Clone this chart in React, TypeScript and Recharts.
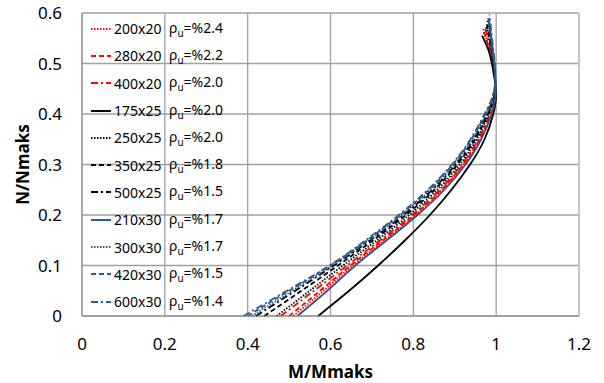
import React from "react"
import { CartesianGrid, Label, Legend, Line, LineChart, ReferenceLine, XAxis, YAxis } from "recharts"

// N/Nmaks levels of the lower branch (shared by all columns)
const lowerN = [0, 0.05, 0.1, 0.15, 0.2, 0.25, 0.3, 0.35, 0.4, 0.44]

// section names and reinforcement ratios
const sections = ["200x20", "280x20", "400x20", "175x25", "250x25", "350x25", "500x25", "210x30", "300x30", "420x30", "600x30"]
const ratios = ["2.4", "2.2", "2.0", "2.0", "2.0", "1.8", "1.5", "1.7", "1.7", "1.5", "1.4"]

// M/Mmaks read along the lower branch, one list per section
const lowerM = [
  [0.51, 0.583, 0.654, 0.731, 0.806, 0.871, 0.923, 0.962, 0.988, 0.999],
  [0.5, 0.575, 0.648, 0.726, 0.802, 0.868, 0.92, 0.96, 0.987, 0.999],
  [0.48, 0.56, 0.64, 0.72, 0.797, 0.864, 0.917, 0.957, 0.985, 0.998],
  [0.57, 0.645, 0.715, 0.78, 0.84, 0.892, 0.937, 0.972, 0.993, 1.0],
  [0.47, 0.55, 0.63, 0.712, 0.79, 0.858, 0.912, 0.953, 0.982, 0.997],
  [0.44, 0.53, 0.618, 0.703, 0.782, 0.851, 0.906, 0.949, 0.98, 0.996],
  [0.42, 0.515, 0.608, 0.696, 0.776, 0.846, 0.902, 0.946, 0.978, 0.995],
  [0.52, 0.592, 0.66, 0.736, 0.81, 0.875, 0.926, 0.964, 0.989, 0.999],
  [0.41, 0.508, 0.605, 0.693, 0.772, 0.842, 0.899, 0.943, 0.976, 0.995],
  [0.4, 0.5, 0.6, 0.688, 0.768, 0.838, 0.895, 0.94, 0.974, 0.994],
  [0.39, 0.495, 0.598, 0.685, 0.765, 0.835, 0.893, 0.938, 0.972, 0.993],
]

// upper branch (bending back above the balance point)
const upperN = [
  [0.48, 0.52, 0.57],
  [0.48, 0.52, 0.565],
  [0.48, 0.52, 0.575],
  [0.48, 0.52, 0.555],
  [0.48, 0.52, 0.575],
  [0.48, 0.52, 0.58],
  [0.48, 0.52, 0.585],
  [0.48, 0.52, 0.59],
  [0.48, 0.52, 0.59],
  [0.48, 0.52, 0.59],
  [0.48, 0.52, 0.597],
]
const upperM = [
  [0.995, 0.986, 0.968],
  [0.995, 0.986, 0.969],
  [0.996, 0.988, 0.972],
  [0.994, 0.984, 0.966],
  [0.996, 0.99, 0.975],
  [0.997, 0.991, 0.977],
  [0.997, 0.992, 0.979],
  [0.997, 0.992, 0.981],
  [0.998, 0.993, 0.982],
  [0.998, 0.993, 0.982],
  [0.998, 0.994, 0.984],
]

const xTicks = [0, 0.2, 0.4, 0.6, 0.8, 1, 1.2]
const yTicks = [0, 0.1, 0.2, 0.3, 0.4, 0.5, 0.6]

const RED = "#ff0000"
const BLACK = "#000000"
const BLUE = "#2b5a8c"

const styles = [
  { color: RED, dash: "1.5 1.5" },
  { color: RED, dash: "5 3" },
  { color: RED, dash: "7 3 2 3" },
  { color: BLACK, dash: undefined },
  { color: BLACK, dash: "1.5 1.5" },
  { color: BLACK, dash: "5 3" },
  { color: BLACK, dash: "7 3 2 3" },
  { color: BLUE, dash: undefined },
  { color: BLUE, dash: "1.5 1.5" },
  { color: BLUE, dash: "5 3" },
  { color: BLUE, dash: "7 3 2 3" },
]

const FONT = "'Noto Sans', sans-serif"

const series = sections.map((name, i) => ({
  name,
  ratio: ratios[i],
  ...styles[i],
  points: [
    ...lowerN.map((n, j) => ({ m: lowerM[i][j], n })),
    ...upperN[i].map((n, j) => ({ m: upperM[i][j], n })),
  ],
}))

const renderLegend = () => (
  <div style={{ fontFamily: FONT, fontSize: 14, color: "#000" }}>
    {series.map((s) => (
      <div key={s.name} style={{ display: "flex", alignItems: "center", height: 27.3 }}>
        <svg width={20} height={6} style={{ marginLeft: 9, marginRight: 3 }}>
          <line x1={0} y1={3} x2={20} y2={3} stroke={s.color} strokeWidth={2} strokeDasharray={s.dash} />
        </svg>
        <span style={{ width: 55 }}>{s.name}</span>
        <span>
          ρ<span style={{ fontSize: 10, verticalAlign: -4 }}>u</span>=%{s.ratio}
        </span>
      </div>
    ))}
  </div>
)

export default function App() {
  return (
    <div style={{ position: "absolute", left: 0, top: 0, background: "#fff" }}>
      <LineChart width={604} height={383} margin={{ top: 13, right: 25, left: 0, bottom: 0 }}>
        <CartesianGrid stroke="#a0a0a0" strokeWidth={1.3} />
        <XAxis
          type="number"
          dataKey="m"
          domain={[0, 1.2]}
          ticks={xTicks}
          height={67}
          tickSize={0}
          tickMargin={22}
          stroke="#8c8c8c"
          tick={{ fill: "#000", fontSize: 17, fontFamily: FONT }}
        >
          <Label
            position="insideBottom"
            content={({ viewBox }: any) => (
              <text
                x={viewBox.x + viewBox.width / 2}
                y={viewBox.y + 62}
                textAnchor="middle"
                fontFamily={FONT}
                fontWeight="bold"
                fontSize={17}
                fill="#000"
              >
                M/Mmaks
              </text>
            )}
          />
        </XAxis>
        <YAxis
          type="number"
          dataKey="n"
          domain={[0, 0.6]}
          ticks={yTicks}
          width={82}
          tickSize={0}
          tickMargin={20}
          stroke="#8c8c8c"
          tick={{ fill: "#000", fontSize: 17, fontFamily: FONT }}
        >
          <Label
            position="insideLeft"
            content={({ viewBox }: any) => {
              const cx = viewBox.x + 22
              const cy = viewBox.y + viewBox.height / 2
              return (
                <text
                  x={cx}
                  y={cy}
                  transform={`rotate(-90 ${cx} ${cy})`}
                  textAnchor="middle"
                  dominantBaseline="central"
                  fontFamily={FONT}
                  fontWeight="bold"
                  fontSize={17}
                  fill="#000"
                >
                  N/Nmaks
                </text>
              )
            }}
          />
        </YAxis>
        <ReferenceLine x={1.2} stroke="#c4c4c4" strokeWidth={2} />
        <Legend
          layout="vertical"
          align="center"
          verticalAlign="middle"
          content={renderLegend}
          wrapperStyle={{ left: 82, top: 15, width: 160 }}
        />
        {series.map((s) => (
          <Line
            key={s.name}
            data={s.points}
            dataKey="n"
            name={s.name}
            type="natural"
            stroke={s.color}
            strokeWidth={1.8}
            strokeDasharray={s.dash}
            dot={false}
            activeDot={false}
            isAnimationActive={false}
          />
        ))}
      </LineChart>
    </div>
  )
}
